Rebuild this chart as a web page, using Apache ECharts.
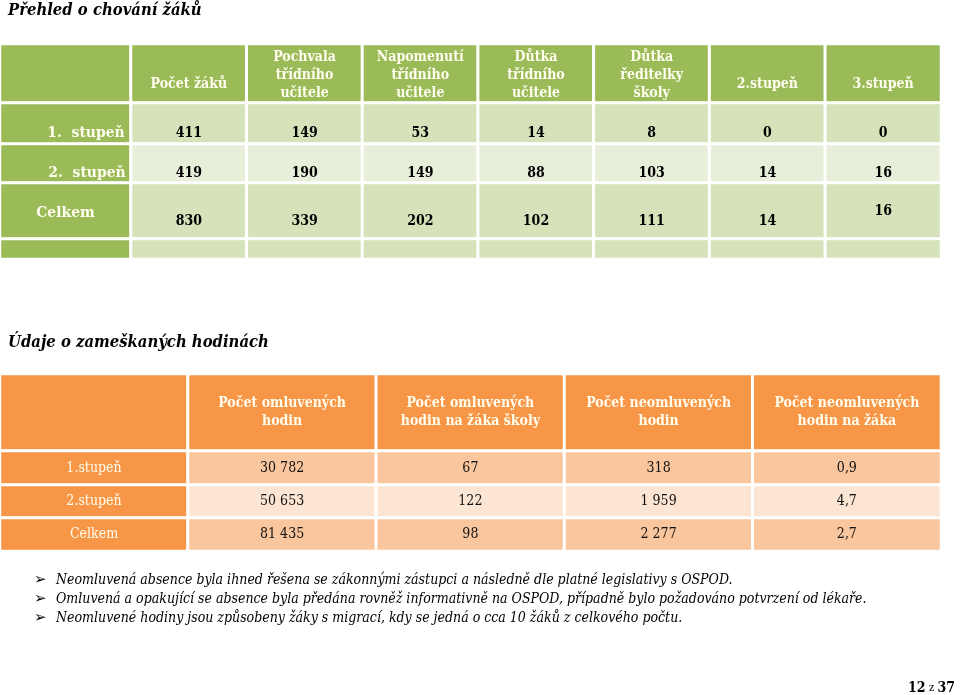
<!DOCTYPE html>
<html><head><meta charset="utf-8">
<script src="https://cdn.jsdelivr.net/npm/echarts@6/dist/echarts.min.js"></script>
<style>html,body{margin:0;padding:0;background:#fff}#c{width:960px;height:695px}</style>
</head><body><div id="c"></div>
<script>
// ---- Table 1: Přehled o chování žáků ----
const behaviourTitle = 'Přehled o chování žáků';
const behaviourColumns = ['Počet žáků', 'Pochvala\ntřídního\nučitele', 'Napomenutí\ntřídního\nučitele', 'Důtka\ntřídního\nučitele', 'Důtka\nředitelky\nškoly', '2.stupeň', '3.stupeň'];
const behaviourRows = ['1.  stupeň', '2.  stupeň', 'Celkem', ''];
const behaviourStage1 = [411, 149, 53, 14, 8, 0, 0];
const behaviourStage2 = [419, 190, 149, 88, 103, 14, 16];
const behaviourTotal = [830, 339, 202, 102, 111, 14, 16];
const behaviourBlank = [null, null, null, null, null, null, null];

// ---- Table 2: Údaje o zameškaných hodinách ----
const absenceTitle = 'Údaje o zameškaných hodinách';
const absenceColumns = ['Počet omluvených\nhodin', 'Počet omluvených\nhodin na žáka školy', 'Počet neomluvených\nhodin', 'Počet neomluvených\nhodin na žáka'];
const absenceRows = ['1.stupeň', '2.stupeň', 'Celkem'];
const absenceStage1 = [30782, 67, 318, 0.9];
const absenceStage2 = [50653, 122, 1959, 4.7];
const absenceTotal = [81435, 98, 2277, 2.7];

const notes = [
  'Neomluvená absence byla ihned řešena se zákonnými zástupci a následně dle platné legislativy s OSPOD.',
  'Omluvená a opakující se absence byla předána rovněž informativně na OSPOD, případně bylo požadováno potvrzení od lékaře.',
  'Neomluvené hodiny jsou způsobeny žáky s migrací, kdy se jedná o cca 10 žáků z celkového počtu.'
];
const pageNumber = 12, pageTotal = 37;

// ---- helpers ----
const FONT = "'DejaVu Serif Condensed', 'Liberation Serif', serif";
function fmt(v) {
  if (v === null || v === undefined) return '';
  if (Number.isInteger(v)) return String(v).replace(/\B(?=(\d{3})+(?!\d))/g, ' ');
  return v.toFixed(1).replace('.', ',');
}
const grids = [], xAxes = [], yAxes = [], series = [];
function addBand(left, right, top, bottom, cells) {
  const gi = grids.length;
  grids.push({ left: left, top: top, width: right - left, height: bottom - top, containLabel: false });
  xAxes.push({ gridIndex: gi, type: 'category', data: cells.map((c, i) => 'c' + i), show: false });
  yAxes.push({ gridIndex: gi, type: 'category', data: ['r'], show: false });
  series.push({
    type: 'heatmap', xAxisIndex: gi, yAxisIndex: gi, silent: true,
    itemStyle: { borderColor: '#ffffff', borderWidth: 3 },
    label: { show: true, formatter: p => p.name },
    emphasis: { disabled: true },
    data: cells.map((c, i) => ({
      value: [i, 0, typeof c.v === 'number' ? c.v : 0],
      name: c.text,
      itemStyle: { color: c.color },
      label: c.label
    }))
  });
}

// Table 1 styles
const G_DARK = '#9BBB59', G_MID = '#D5E2BA', G_LIGHT = '#E7EED9';
const CREAM = '#FFFDEE';
const t1Head = { color: CREAM, fontFamily: FONT, fontWeight: 'bold', fontSize: 14, lineHeight: 18, position: 'insideBottom' };
const t1Data = { color: '#000', fontFamily: FONT, fontWeight: 'bold', fontSize: 14, position: 'insideBottom' };
const T1 = { x0: 0, x1: 131, x2: 941 };
const t1Bands = [[44, 103], [103, 144], [144, 183], [183, 239], [239, 259]];
// header
addBand(T1.x0, T1.x1, t1Bands[0][0], t1Bands[0][1], [{ text: '', color: G_DARK }]);
addBand(T1.x1, T1.x2, t1Bands[0][0], t1Bands[0][1], behaviourColumns.map(t => ({
  text: t, color: G_DARK, label: Object.assign({}, t1Head, { distance: t.indexOf('\n') >= 0 ? 2 : 11 })
})));
const t1RowData = [behaviourStage1, behaviourStage2, behaviourTotal, behaviourBlank];
const t1RowFill = [G_MID, G_LIGHT, G_MID, G_MID];
const t1Dist = [5, 4, 12, 0];
t1RowData.forEach((row, r) => {
  const band = t1Bands[r + 1];
  const isTotal = behaviourRows[r] === 'Celkem';
  addBand(T1.x0, T1.x1, band[0], band[1], [{
    text: behaviourRows[r], color: G_DARK,
    label: isTotal ? Object.assign({}, t1Head, { fontSize: 15.5, distance: 19 })
                   : Object.assign({}, t1Head, { fontSize: 15.5, position: 'insideBottomRight', distance: t1Dist[r] - 1, padding: [0, 4, 0, 0] })
  }]);
  addBand(T1.x1, T1.x2, band[0], band[1], row.map((v, i) => ({
    text: fmt(v), v: v, color: t1RowFill[r],
    label: Object.assign({}, t1Data, { distance: (isTotal && i === row.length - 1) ? 22 : t1Dist[r] })
  })));
});

// Table 2 styles
const O_DARK = '#F79646', O_MID = '#FAC69E', O_LIGHT = '#FDE5D3';
const t2Head = { color: CREAM, fontFamily: FONT, fontWeight: 'bold', fontSize: 14, lineHeight: 18, position: 'inside' };
const t2Lab = { color: CREAM, fontFamily: FONT, fontSize: 14, position: 'inside' };
const t2Data = { color: '#111', fontFamily: FONT, fontSize: 14, position: 'inside' };
const T2 = { x0: 0, x1: 188, x2: 941 };
const t2Bands = [[374, 451], [451, 485], [485, 518], [518, 551]];
addBand(T2.x0, T2.x1, t2Bands[0][0], t2Bands[0][1], [{ text: '', color: O_DARK }]);
addBand(T2.x1, T2.x2, t2Bands[0][0], t2Bands[0][1], absenceColumns.map(t => ({ text: t, color: O_DARK, label: t2Head })));
const t2RowData = [absenceStage1, absenceStage2, absenceTotal];
const t2RowFill = [O_MID, O_LIGHT, O_MID];
t2RowData.forEach((row, r) => {
  const band = t2Bands[r + 1];
  addBand(T2.x0, T2.x1, band[0], band[1], [{ text: absenceRows[r], color: O_DARK, label: t2Lab }]);
  addBand(T2.x1, T2.x2, band[0], band[1], row.map(v => ({ text: fmt(v), v: v, color: t2RowFill[r], label: t2Data })));
});

// free text
const graphic = [
  { type: 'text', left: 8, top: 2, silent: true,
    style: { text: behaviourTitle, fill: '#000', font: "italic bold 16.5px " + FONT } },
  { type: 'text', left: 8, top: 334, silent: true,
    style: { text: absenceTitle, fill: '#000', font: "italic bold 16.5px " + FONT } }
];
notes.forEach((n, i) => {
  const y = 573 + i * 19;
  graphic.push({ type: 'text', left: 34, top: y, silent: true,
    style: { text: '\u27A2', fill: '#000', font: "15px 'DejaVu Sans', sans-serif" } });
  graphic.push({ type: 'text', left: 56, top: y, silent: true,
    style: { text: n, fill: '#000', font: "italic 14px " + FONT } });
});
graphic.push({ type: 'text', right: 5, top: 681, silent: true,
  style: { text: '{b|' + pageNumber + '} {s|z} {b|' + pageTotal + '}',
    rich: { b: { fontFamily: FONT, fontWeight: 'bold', fontSize: 14, color: '#000' },
            s: { fontFamily: FONT, fontSize: 11, color: '#000' } } } });

const chart = echarts.init(document.getElementById('c'), null, { renderer: 'canvas' });
chart.setOption({
  animation: false,
  backgroundColor: '#ffffff',
  grid: grids, xAxis: xAxes, yAxis: yAxes, series: series,
  graphic: graphic
});
</script></body></html>
